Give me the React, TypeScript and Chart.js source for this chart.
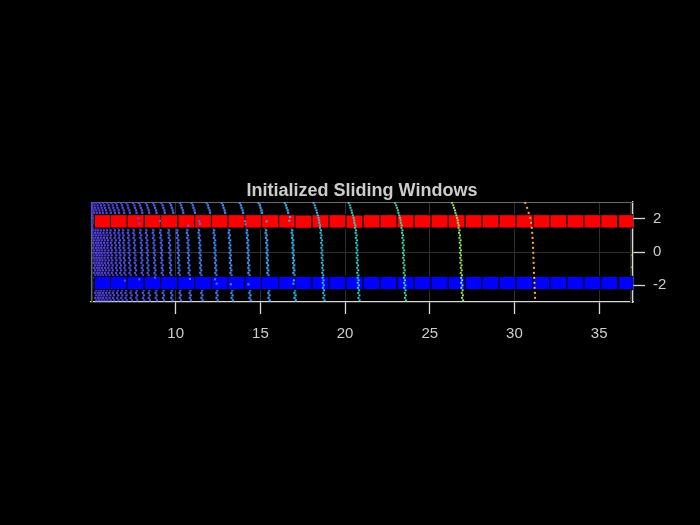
import React, { useEffect, useRef } from "react";
import { Chart, registerables } from "chart.js";

Chart.register(...registerables);

// ---------- data ----------
const TITLE = "Initialized Sliding Windows";
const X_MIN = 5;
const X_MAX = 37;
const Y_MIN = -3;
const Y_MAX = 3;
const X_TICKS = [10, 15, 20, 25, 30, 35];
const Y_TICKS = [-2, 0, 2];

// sliding windows (left edge in x, centre in y)
const windowLeftX = [
  5.2, 6.15, 7.14, 8.15, 9.11, 10.13, 11.12, 12.11, 13.09, 14.08, 15.07, 16.08,
  17.04, 18.05, 19.05, 20.06, 21.07, 22.07, 23.08, 24.08, 25.09, 26.09, 27.1,
  28.1, 29.1, 30.1, 31.1, 32.1, 33.1, 34.1, 35.1, 36.15,
];
const redWindowY = [
  1.84, 1.84, 1.84, 1.84, 1.84, 1.84, 1.84, 1.84, 1.84, 1.84, 1.84, 1.84,
  1.82, 1.84, 1.84, 1.82, 1.84, 1.84, 1.84, 1.84, 1.84, 1.84, 1.84,
  1.84, 1.84, 1.84, 1.84, 1.84, 1.84, 1.84, 1.84, 1.84,
];
const blueWindowY = [
  -1.86, -1.86, -1.86, -1.86, -1.86, -1.86, -1.86, -1.86, -1.86, -1.86, -1.86, -1.86,
  -1.86, -1.86, -1.86, -1.86, -1.86, -1.86, -1.86, -1.86, -1.86, -1.86, -1.86,
  -1.86, -1.86, -1.86, -1.86, -1.86, -1.86, -1.86, -1.86, -1.86,
];
const WINDOW_W = 1.0;
const WINDOW_H = 0.8;

// point-cloud rings: x position of each ring near y = 0
const ringX = [
  5.15, 5.31, 5.46, 5.62, 5.8, 5.99, 6.2, 6.45, 6.69, 6.94, 7.24, 7.57, 7.97,
  8.31, 8.72, 9.15, 9.64, 10.14, 10.73, 11.42, 12.31, 13.2, 14.26, 15.38,
  16.92, 18.62, 20.69, 23.43, 26.8, 31.12,
];
const ringColor = [
  "#5040e0", "#5040e0", "#5040e0", "#5040e0", "#5040e0", "#5042e2", "#4f45e4",
  "#4e48e6", "#4e4ae8", "#4d4ce9", "#4d4eea", "#4c50eb", "#4c53ec",
  "#4b57ee", "#4a5bf0", "#4960f2", "#4865f4", "#466bf5", "#4471f6", "#4278f6",
  "#3f80f6", "#3b8af6", "#3895f5", "#35a0f4", "#31aef2", "#2cc0e8", "#2ccfd2",
  "#3cdaa8", "#90e468", "#ffb43c",
];
// every n-th sample is visible on each ring
const ringStride = [
  1, 1, 1, 1, 1, 1, 1, 1, 1, 1, 1, 1, 1, 1, 1, 1, 1, 1, 1, 1, 1, 1, 1, 1, 1, 1,
  1, 1, 1, 2,
];
// rings from this x onward are drawn above the windows
const TOP_LAYER_FROM_X = 18;

// sample heights along a ring and the ring's x shift at each height
const ringLevelY = [
  2.95, 2.8, 2.65, 2.5, 2.35, 2.2, 2.05, 1.9, 1.75, 1.6, 1.45, 1.3, 1.15, 1.0,
  0.85, 0.7, 0.55, 0.4, 0.25, 0.1, -0.05, -0.2, -0.35, -0.5, -0.65, -0.8, -0.95,
  -1.1, -1.25, -1.4, -1.55, -1.7, -1.85, -2.0, -2.15, -2.3, -2.45, -2.6, -2.75,
  -2.9,
];
const ringShiftX = [
  -0.48, -0.41, -0.37, -0.31, -0.28, -0.23, -0.19, -0.15, -0.14, -0.09, -0.1,
  -0.04, -0.07, -0.01, -0.05, 0.02, -0.03, 0.03, -0.02, 0.04, -0.01, 0.05, 0.0,
  0.06, 0.01, 0.08, 0.03, 0.09, 0.03, 0.1, 0.05, 0.11, 0.06, 0.13, 0.07, 0.14,
  0.09, 0.16, 0.1, 0.17,
];

// near-ring points that show on top of the windows
const overlayX = [
  7.79, 7.85, 9.07, 10.74, 11.39, 11.43, 14.09, 14.12, 15.37, 16.71, 16.75,
  7.0, 7.85, 8.78, 10.84, 12.42, 12.32, 13.26, 14.29, 16.98, 16.95,
];
const overlayY = [
  2.02, 1.7, 1.86, 1.58, 1.84, 1.68, 1.84, 1.66, 1.84, 1.88, 2.1,
  -1.72, -1.64, -1.54, -1.62, -1.9, -1.64, -1.94, -1.94, -1.7, -1.9,
];

// far points at the right edge
const edgeX = [36.98, 36.97];
const edgeY = [-0.2, -0.91];
const EDGE_COLOR = "#eeee2a";

// ---------- styling ----------
const FONT = "'Liberation Sans', Arial, Helvetica, sans-serif";
const TEXT = "#cccccc";
const GRID = "#2e2e2e";
const SPINE_LIGHT = "#d8d8d8";
const SPINE_DARK = "#6a6a6a";

function colorFor(x: number): string {
  let best = 0;
  for (let i = 1; i < ringX.length; i++) {
    if (Math.abs(ringX[i] - x) < Math.abs(ringX[best] - x)) best = i;
  }
  return ringColor[best];
}

export default function App() {
  const ref = useRef<HTMLCanvasElement>(null);

  useEffect(() => {
    document.body.style.margin = "0";
    document.body.style.background = "#000";
    const canvas = ref.current;
    if (!canvas) return;

    const nearPts: { x: number; y: number }[] = [];
    const nearCol: string[] = [];
    const farPts: { x: number; y: number }[] = [];
    const farCol: string[] = [];
    ringX.forEach((rx, i) => {
      for (let j = 0; j < ringLevelY.length; j += ringStride[i]) {
        const p = { x: rx + ringShiftX[j], y: ringLevelY[j] };
        if (rx < TOP_LAYER_FROM_X) {
          nearPts.push(p);
          nearCol.push(ringColor[i]);
        } else {
          farPts.push(p);
          farCol.push(ringColor[i]);
        }
      }
    });
    const overPts = overlayX.map((x, i) => ({ x, y: overlayY[i] }));
    const overCol = overlayX.map((x) => colorFor(x));
    const edgePts = edgeX.map((x, i) => ({ x, y: edgeY[i] }));

    const NEAR_INDEX = 3;

    const drawWindows = (chart: any) => {
      const { ctx, chartArea: a } = chart;
      const xs = chart.scales.x;
      const ys = chart.scales.y;
      ctx.save();
      ctx.beginPath();
      ctx.rect(a.left, a.top, a.right - a.left, a.bottom - a.top);
      ctx.clip();
      windowLeftX.forEach((lx, i) => {
        const pairs: [number, string][] = [
          [redWindowY[i], "#ff0000"],
          [blueWindowY[i], "#0000ff"],
        ];
        pairs.forEach(([cy, col]) => {
          const x0 = xs.getPixelForValue(lx);
          const x1 = xs.getPixelForValue(lx + WINDOW_W);
          const y0 = ys.getPixelForValue(cy + WINDOW_H / 2);
          const y1 = ys.getPixelForValue(cy - WINDOW_H / 2);
          ctx.fillStyle = col;
          ctx.fillRect(x0, y0, x1 - x0, y1 - y0);
          ctx.strokeStyle = "#000000";
          ctx.lineWidth = 1;
          ctx.strokeRect(x0, y0, x1 - x0, y1 - y0);
        });
      });
      ctx.restore();
    };

    const framePlugin = {
      id: "frame",
      beforeDraw(chart: any) {
        const { ctx, width, height } = chart;
        ctx.save();
        ctx.fillStyle = "#000000";
        ctx.fillRect(0, 0, width, height);
        ctx.restore();
      },
      beforeDatasetsDraw(chart: any) {
        const { ctx, chartArea: a } = chart;
        ctx.save();
        ctx.fillStyle = "#2a2a2a";
        ctx.fillRect(a.left, a.top, 2, a.bottom - a.top);
        ctx.fillRect(a.right - 3, a.top, 2, a.bottom - a.top);
        ctx.strokeStyle = SPINE_DARK;
        ctx.lineWidth = 1.2;
        ctx.beginPath();
        ctx.moveTo(a.left, a.top + 0.5);
        ctx.lineTo(a.right, a.top + 0.5);
        ctx.moveTo(a.left + 0.5, a.top);
        ctx.lineTo(a.left + 0.5, a.bottom);
        ctx.stroke();
        ctx.restore();
      },
      afterDatasetDraw(chart: any, args: any) {
        if (args.index === NEAR_INDEX) drawWindows(chart);
      },
      afterDraw(chart: any) {
        const { ctx, chartArea: a } = chart;
        ctx.save();
        ctx.fillStyle = TEXT;
        ctx.font = `bold 18px ${FONT}`;
        ctx.textAlign = "center";
        ctx.textBaseline = "alphabetic";
        ctx.fillText(TITLE, (a.left + a.right) / 2, a.top - 6);
        ctx.restore();
      },
    };

    const pointOpts = (r: number) => ({
      showLine: false,
      pointStyle: "rect",
      pointRadius: r,
      pointBorderWidth: 0,
      pointHoverRadius: 0,
      borderWidth: 0,
    });

    const chart = new Chart(canvas, {
      type: "scatter",
      data: {
        datasets: [
          { label: "overlay", data: overPts, pointBackgroundColor: overCol, backgroundColor: overCol, ...pointOpts(1.45) } as any,
          { label: "far", data: farPts, pointBackgroundColor: farCol, backgroundColor: farCol, ...pointOpts(1.4) } as any,
          { label: "edge", data: edgePts, pointBackgroundColor: EDGE_COLOR, backgroundColor: EDGE_COLOR, ...pointOpts(1.4) } as any,
          { label: "near", data: nearPts, pointBackgroundColor: nearCol, backgroundColor: nearCol, ...pointOpts(1.55) } as any,
        ],
      },
      options: {
        responsive: false,
        animation: false,
        events: [],
        layout: { padding: { left: 91, top: 202, right: 0, bottom: 0 } },
        plugins: {
          legend: { display: false },
          title: { display: false },
          tooltip: { enabled: false },
        },
        scales: {
          x: {
            type: "linear",
            position: "bottom",
            min: X_MIN,
            max: X_MAX,
            afterBuildTicks: (s: any) => {
              s.ticks = X_TICKS.map((v) => ({ value: v }));
            },
            afterFit: (s: any) => {
              s.height = 525 - 302;
            },
            grid: {
              color: GRID,
              lineWidth: 1,
              drawTicks: true,
              tickLength: 12,
              tickColor: SPINE_LIGHT,
              tickWidth: 1.3,
            },
            border: { display: true, color: SPINE_LIGHT, width: 1.3 },
            ticks: {
              color: TEXT,
              font: { family: FONT, size: 15 },
              padding: 11,
              maxRotation: 0,
              autoSkip: false,
            },
          },
          y: {
            type: "linear",
            position: "right",
            min: Y_MIN,
            max: Y_MAX,
            afterBuildTicks: (s: any) => {
              s.ticks = Y_TICKS.map((v) => ({ value: v }));
            },
            afterFit: (s: any) => {
              s.width = 700 - 633;
            },
            grid: {
              color: GRID,
              lineWidth: 1,
              drawTicks: true,
              tickLength: 12,
              tickColor: SPINE_LIGHT,
              tickWidth: 1.3,
            },
            border: { display: true, color: SPINE_LIGHT, width: 1.3 },
            ticks: {
              color: TEXT,
              font: { family: FONT, size: 15 },
              padding: 8,
              autoSkip: false,
            },
          },
        },
      } as any,
      plugins: [framePlugin],
    });

    return () => chart.destroy();
  }, []);

  return (
    <canvas
      ref={ref}
      width={700}
      height={525}
      style={{ display: "block", width: 700, height: 525 }}
    />
  );
}
